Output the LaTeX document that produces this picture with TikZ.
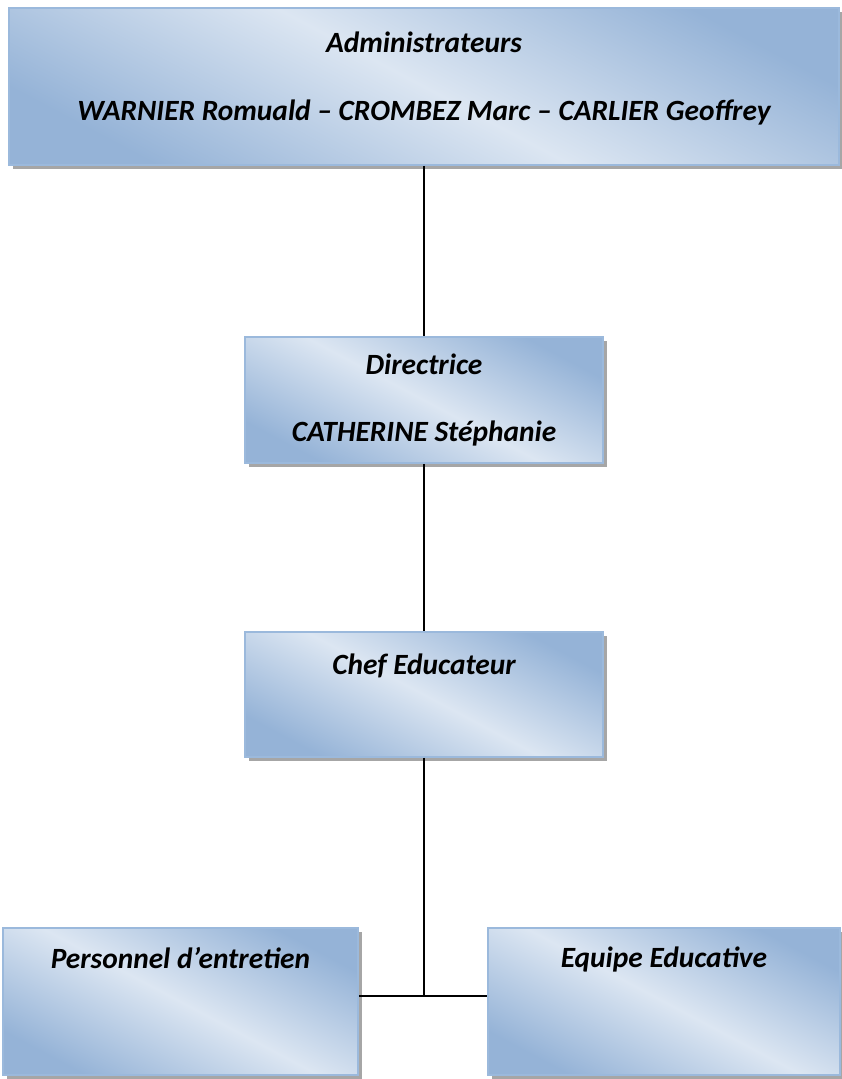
\documentclass[tikz,border=0pt]{standalone}
\usepackage{fontspec}
\setmainfont{Carlito}
\usetikzlibrary{shadows}
\definecolor{boxdark}{RGB}{149,179,215}
\definecolor{boxlight}{RGB}{220,230,242}
\definecolor{boxline}{RGB}{155,185,220}
\newcommand{\lowgap}{\rule[-20bp]{0pt}{20bp}}
\newcommand{\highgap}{\rule{0pt}{38bp}}

\begin{document}
\begin{tikzpicture}[x=1bp,y=-1bp]
\tikzstyle{block} = [rectangle, draw=boxline, line width=1.5bp, inner sep=0pt,
top color=boxdark, bottom color=boxdark, middle color=boxlight, shading angle=-28,
drop shadow={shadow xshift=4bp, shadow yshift=-4bp, fill=gray!70, opacity=1},
font=\fontsize{29.5}{36}\selectfont\bfseries\itshape, align=center]
\tikzstyle{line} = [draw, line width=1.2bp, black]
\useasboundingbox (0,0) rectangle (842,1079);
% row 1
\node [block, minimum width=830bp, minimum height=157bp] (admin) at (424,86.5)
{Administrateurs\\[32bp] WARNIER Romuald -- CROMBEZ Marc -- CARLIER Geoffrey\lowgap};
% row 2
\node [block, minimum width=358bp, minimum height=126bp] (dir) at (424,400)
{Directrice\\[32bp] CATHERINE Stéphanie};
% row 3
\node [block, minimum width=358bp, minimum height=125bp] (chef) at (424,694.5)
{\highgap Chef Educateur\\[32bp] \strut};
% row 4
\node [block, minimum width=355bp, minimum height=147bp] (perso) at (180.5,1001.5)
{Personnel d’entretien\\[32bp] \strut\lowgap};
\node [block, minimum width=352bp, minimum height=147bp] (equipe) at (664,1001.5)
{Equipe Educative\\[32bp] \strut\lowgap};
\coordinate (junction) at (424,996);
\tikzstyle{every path}=[line]
\path (admin) -- (dir);
\path (dir) -- (chef);
\path (chef) -- (junction);
\path (perso.east |- junction) -- (equipe.west |- junction);
\end{tikzpicture}
\end{document}
